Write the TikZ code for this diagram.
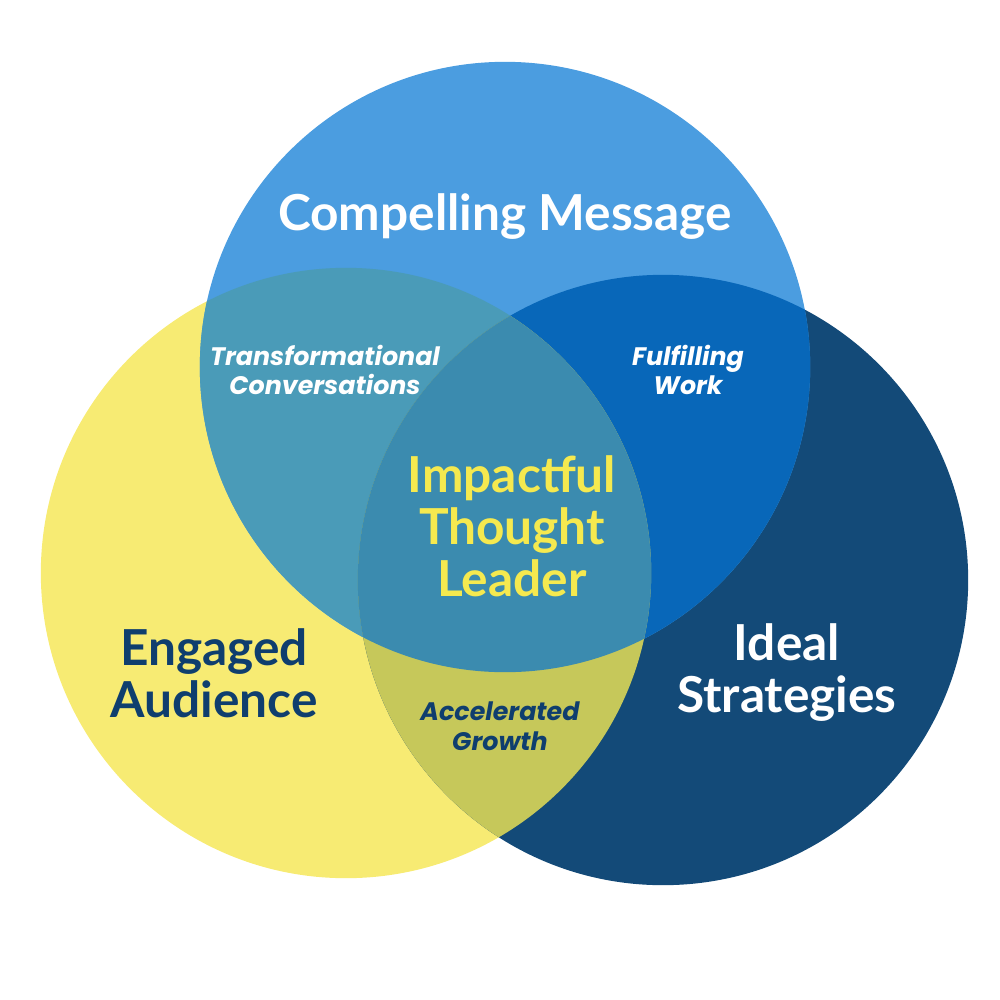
\documentclass[tikz,border=0pt]{standalone}
\usepackage{fontspec}
\setmainfont{Lato}
\newfontfamily\labfont{Poppins}
\definecolor{cTop}{HTML}{4B9DE0}
\definecolor{cYel}{HTML}{F7EB73}
\definecolor{cNav}{HTML}{134A78}
\definecolor{cTY}{HTML}{4A9BB8}
\definecolor{cTN}{HTML}{0867B9}
\definecolor{cYN}{HTML}{C6C85A}
\definecolor{cAll}{HTML}{3B8BAF}
\definecolor{cTxtNavy}{HTML}{0F3E6E}
\definecolor{cTxtYel}{HTML}{F5E94F}
\tikzset{
  head/.style={font=\fontsize{14.1}{14.8}\selectfont\bfseries, align=center, inner sep=0pt},
  sub/.style={font=\labfont\fontsize{7.2}{8.5}\selectfont\bfseries\itshape, align=center, inner sep=0pt}
}
\begin{document}
\begin{tikzpicture}[x=0.01cm,y=-0.01cm]
\useasboundingbox (0,0) rectangle (1000,1000);
\coordinate (T) at (505,367);
\coordinate (Y) at (346,573);
\coordinate (N) at (663,580);
\def\R{3.05cm}
\fill[cYel] (Y) circle[radius=\R];
\fill[cNav] (N) circle[radius=\R];
\fill[cTop] (T) circle[radius=\R];
\begin{scope}
  \clip (T) circle[radius=\R];
  \fill[cTY] (Y) circle[radius=\R];
  \fill[cTN] (N) circle[radius=\R];
\end{scope}
\begin{scope}
  \clip (Y) circle[radius=\R];
  \fill[cYN] (N) circle[radius=\R];
\end{scope}
\begin{scope}
  \clip (T) circle[radius=\R];
  \clip (Y) circle[radius=\R];
  \fill[cAll] (N) circle[radius=\R];
\end{scope}
\node[head, text=white] (cm) at (505,217) {Compelling Message};
\node[head, text=cTxtYel] (itl) at (512,526) {Impactful\\Thought\\Leader};
\node[head, text=cTxtNavy] (ea) at (214,673) {Engaged\\Audience};
\node[head, text=white] (is) at (787,673) {Ideal\\Strategies};
\node[sub, text=white] (tc) at (325,370) {Transformational\\Conversations};
\node[sub, text=white] (fw) at (688,370) {Fulfilling\\Work};
\node[sub, text=cTxtNavy] (ag) at (500,726) {Accelerated\\Growth};
\end{tikzpicture}
\end{document}
